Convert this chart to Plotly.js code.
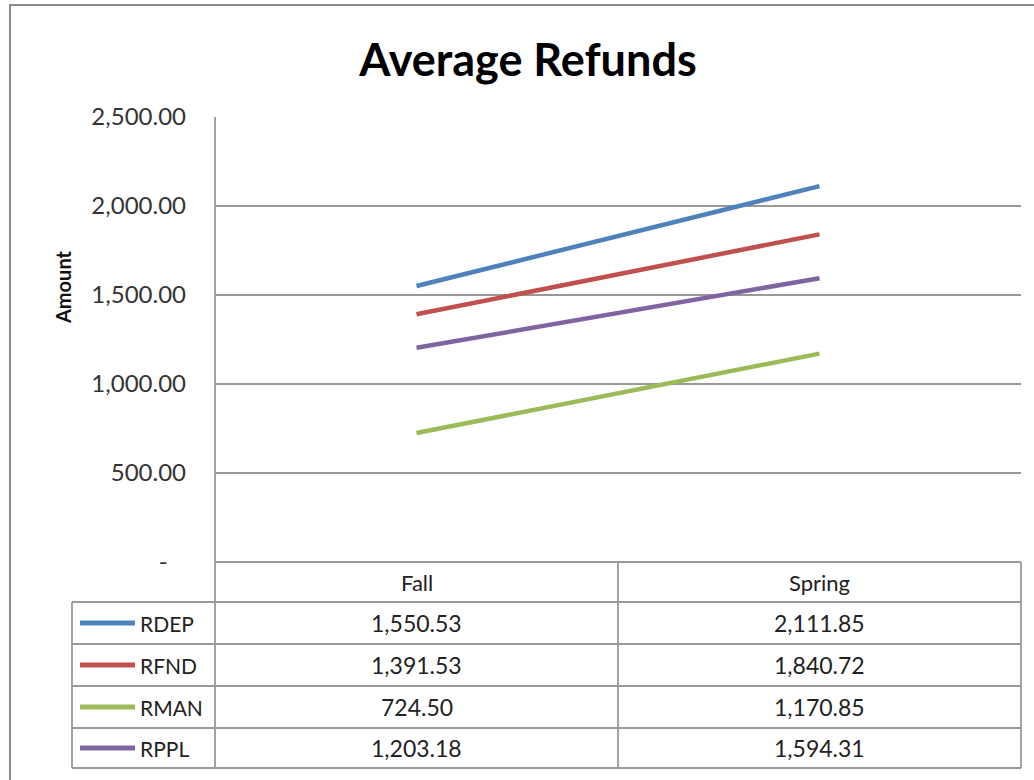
<!DOCTYPE html>
<html>
<head>
<meta charset="utf-8">
<script src="https://cdn.plot.ly/plotly-3.0.1.min.js"></script>
<style>html,body{margin:0;padding:0;background:#fff;}#chart{width:1034px;height:780px;}</style>
</head>
<body>
<div id="chart"></div>
<script>
// ---- data ----
const categories = ["Fall", "Spring"];
const seriesNames = ["RDEP", "RFND", "RMAN", "RPPL"];
const RDEP = [1550.53, 2111.85];
const RFND = [1391.53, 1840.72];
const RMAN = [724.50, 1170.85];
const RPPL = [1203.18, 1594.31];
const yTickVals = [0, 500, 1000, 1500, 2000, 2500];
const yTickText = ["-\u00a0\u00a0\u00a0", "500.00", "1,000.00", "1,500.00", "2,000.00", "2,500.00"];

const seriesValues = [RDEP, RFND, RMAN, RPPL];
const colors = ["#4F81BD", "#C0504D", "#9BBB59", "#8064A2"];

// ---- geometry helpers (pixel -> paper) ----
const W = 1034, H = 780;
const L = 215, R = 1021, T = 117, B = 562;
const px = p => (p - L) / (R - L);
const py = p => (B - p) / (B - T);

const FONT = "Lato, 'Liberation Sans', sans-serif";
const gridCol = "#999999";

const traces = seriesValues.map((vals, i) => ({
  type: "scatter",
  mode: "lines",
  name: seriesNames[i],
  x: categories,
  y: vals,
  line: {color: colors[i], width: 4.5},
  hoverinfo: "skip"
}));

const shapes = [];
const annotations = [];
const lineShape = (x0, y0, x1, y1, col, w) => shapes.push({
  type: "line", xref: "paper", yref: "paper",
  x0: px(x0), y0: py(y0), x1: px(x1), y1: py(y1),
  line: {color: col, width: w}
});

// outer chart border
shapes.push({type: "rect", xref: "paper", yref: "paper",
  x0: px(10), y0: py(5), x1: px(1045), y1: py(800),
  line: {color: "#8a8a8a", width: 2}, fillcolor: "rgba(0,0,0,0)"});

// data table lines
const headerTop = 562, headerBot = 602;
const rowBounds = [602, 644, 686, 728, 768];
const colLeft = 72, colMid = 618;
lineShape(L, T, L, 768, gridCol, 1.8);          // left axis / table divider
lineShape(L, headerTop, R, headerTop, gridCol, 1.8);
lineShape(colMid, headerTop, colMid, 768, gridCol, 1.8);
lineShape(R, headerTop, R, 768, gridCol, 1.8);
lineShape(colLeft, headerBot, colLeft, 768, gridCol, 1.8);
rowBounds.forEach(y => lineShape(colLeft, y, R, y, gridCol, 1.8));

const fmt = v => v.toLocaleString("en-US", {minimumFractionDigits: 2, maximumFractionDigits: 2});

// header labels
categories.forEach(c => annotations.push({
  xref: "x", yref: "paper", x: c, y: py((headerTop + headerBot) / 2),
  text: c, showarrow: false, xanchor: "center", yanchor: "middle",
  font: {family: FONT, size: 22, color: "#222"}
}));

// rows
seriesNames.forEach((name, i) => {
  const yc = (rowBounds[i] + rowBounds[i + 1]) / 2;
  shapes.push({type: "line", xref: "paper", yref: "paper",
    x0: px(80), x1: px(135), y0: py(yc), y1: py(yc),
    line: {color: colors[i], width: 5}});
  annotations.push({xref: "paper", yref: "paper", x: px(138), y: py(yc),
    text: name, showarrow: false, xanchor: "left", yanchor: "middle",
    font: {family: FONT, size: 21, color: "#222"}});
  categories.forEach((c, j) => annotations.push({
    xref: "x", yref: "paper", x: c, y: py(yc),
    text: fmt(seriesValues[i][j]), showarrow: false, xanchor: "center", yanchor: "middle",
    font: {family: FONT, size: 23, color: "#222"}
  }));
});

// y-axis title
annotations.push({xref: "paper", yref: "paper", x: px(63), y: py(287),
  text: "<b>Amount</b>", textangle: -90, showarrow: false,
  xanchor: "center", yanchor: "middle",
  font: {family: FONT, size: 20, color: "#111"}});

const layout = {
  width: W, height: H,
  paper_bgcolor: "#fff", plot_bgcolor: "#fff",
  margin: {l: L, r: W - R, t: T, b: H - B, pad: 0},
  showlegend: false,
  title: {
    text: "<b>Average Refunds</b>",
    x: 528 / W, xanchor: "center", xref: "container",
    y: 1 - 60 / H, yanchor: "middle", yref: "container",
    font: {family: FONT, size: 45, color: "#000"}
  },
  xaxis: {
    type: "category", range: [-0.5, 1.5], fixedrange: true,
    showticklabels: false, showgrid: false, zeroline: false, showline: false, ticks: ""
  },
  yaxis: {
    range: [0, 2500], fixedrange: true,
    tickvals: yTickVals, ticktext: yTickText,
    showgrid: true, gridcolor: gridCol, gridwidth: 1.8,
    zeroline: false, showline: false, ticks: "",
    ticklabelstandoff: 28,
    tickfont: {family: FONT, size: 24, color: "#333"}
  },
  shapes: shapes,
  annotations: annotations
};

Plotly.newPlot("chart", traces, layout, {displayModeBar: false, staticPlot: true});
</script>
</body>
</html>
